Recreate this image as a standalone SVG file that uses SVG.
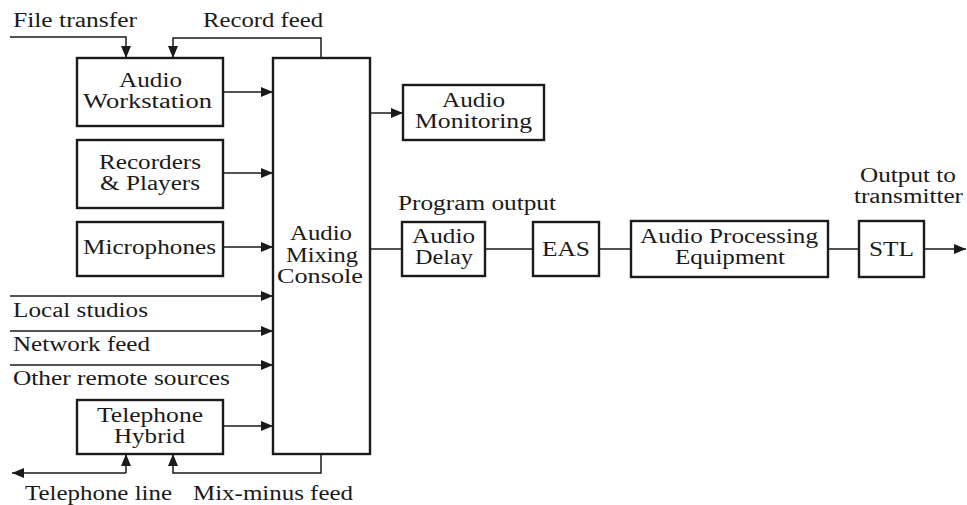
<svg xmlns="http://www.w3.org/2000/svg" width="967" height="505" viewBox="0 0 967 505" font-family="Liberation Serif, Times New Roman, serif" font-size="20">
<style>
.box{fill:#fff;stroke:#1a1a1a;stroke-width:2.4}
.ln{fill:none;stroke:#1a1a1a;stroke-width:1.5}
.t{fill:#1a1a1a}
</style>
<defs>
<marker id="ah" viewBox="0 0 12 10" refX="12" refY="5" markerWidth="12" markerHeight="10" markerUnits="userSpaceOnUse" orient="auto">
<path d="M0,0 L12,5 L0,10 z" fill="#1a1a1a"/>
</marker>
</defs>
<rect width="967" height="505" fill="#fff"/>
<g id="connectors">
<path class="ln" d="M10,37 H126 V58" marker-end="url(#ah)"/>
<path class="ln" d="M321,58 V38 H173 V58" marker-end="url(#ah)"/>
<path class="ln" d="M223,92 H273" marker-end="url(#ah)"/>
<path class="ln" d="M223,173 H273" marker-end="url(#ah)"/>
<path class="ln" d="M223,247 H273" marker-end="url(#ah)"/>
<path class="ln" d="M10,296 H273" marker-end="url(#ah)"/>
<path class="ln" d="M10,331 H273" marker-end="url(#ah)"/>
<path class="ln" d="M10,365 H273" marker-end="url(#ah)"/>
<path class="ln" d="M223,426 H273" marker-end="url(#ah)"/>
<path class="ln" d="M370,113 H403" marker-end="url(#ah)"/>
<path class="ln" d="M126,473 V454" marker-end="url(#ah)"/>
<path class="ln" d="M126,473 H12" marker-end="url(#ah)"/>
<path class="ln" d="M321,454 V473 H173 V454" marker-end="url(#ah)"/>
<path class="ln" d="M370,249 H402 M485,249 H533 M599,249 H631 M828,249 H859"/>
<path class="ln" d="M924,249 H966" marker-end="url(#ah)"/>
</g>
<g id="labels" class="t">
<text x="13" y="27" textLength="124" lengthAdjust="spacingAndGlyphs">File transfer</text>
<text x="203" y="27" textLength="120" lengthAdjust="spacingAndGlyphs">Record feed</text>
<text x="13" y="317" textLength="135" lengthAdjust="spacingAndGlyphs">Local studios</text>
<text x="13" y="351" textLength="137" lengthAdjust="spacingAndGlyphs">Network feed</text>
<text x="13" y="385" textLength="217" lengthAdjust="spacingAndGlyphs">Other remote sources</text>
<text x="25" y="500" textLength="147" lengthAdjust="spacingAndGlyphs">Telephone line</text>
<text x="193" y="500" textLength="160" lengthAdjust="spacingAndGlyphs">Mix-minus feed</text>
<text x="398" y="210" textLength="158" lengthAdjust="spacingAndGlyphs">Program output</text>
<text x="860" y="182" textLength="96" lengthAdjust="spacingAndGlyphs">Output to</text>
<text x="854" y="203" textLength="109" lengthAdjust="spacingAndGlyphs">transmitter</text>
</g>
<g id="workstation" class="t">
<rect class="box" x="77" y="58" width="146" height="68"/>
<text x="119" y="87" textLength="63" lengthAdjust="spacingAndGlyphs">Audio</text>
<text x="83" y="108" textLength="129" lengthAdjust="spacingAndGlyphs">Workstation</text>
</g>
<g id="recorders" class="t">
<rect class="box" x="77" y="140" width="146" height="68"/>
<text x="99" y="169" textLength="102" lengthAdjust="spacingAndGlyphs">Recorders</text>
<text x="100" y="190" textLength="100" lengthAdjust="spacingAndGlyphs">&amp; Players</text>
</g>
<g id="microphones" class="t">
<rect class="box" x="77" y="222" width="146" height="54"/>
<text x="83" y="254" textLength="133" lengthAdjust="spacingAndGlyphs">Microphones</text>
</g>
<g id="telephone" class="t">
<rect class="box" x="77" y="400" width="146" height="54"/>
<text x="97" y="422" textLength="106" lengthAdjust="spacingAndGlyphs">Telephone</text>
<text x="114" y="443" textLength="71" lengthAdjust="spacingAndGlyphs">Hybrid</text>
</g>
<g id="console" class="t">
<rect class="box" x="273" y="58" width="97" height="396"/>
<text x="290" y="240" textLength="62" lengthAdjust="spacingAndGlyphs">Audio</text>
<text x="286" y="262" textLength="72" lengthAdjust="spacingAndGlyphs">Mixing</text>
<text x="277" y="283" textLength="86" lengthAdjust="spacingAndGlyphs">Console</text>
</g>
<g id="monitoring" class="t">
<rect class="box" x="403" y="85" width="141" height="55"/>
<text x="442" y="107" textLength="63" lengthAdjust="spacingAndGlyphs">Audio</text>
<text x="415" y="128" textLength="117" lengthAdjust="spacingAndGlyphs">Monitoring</text>
</g>
<g id="delay" class="t">
<rect class="box" x="402" y="222" width="83" height="54"/>
<text x="412" y="243" textLength="63" lengthAdjust="spacingAndGlyphs">Audio</text>
<text x="415" y="264" textLength="58" lengthAdjust="spacingAndGlyphs">Delay</text>
</g>
<g id="eas" class="t">
<rect class="box" x="533" y="222" width="66" height="54"/>
<text x="542" y="256" textLength="48" lengthAdjust="spacingAndGlyphs">EAS</text>
</g>
<g id="processing" class="t">
<rect class="box" x="631" y="221" width="197" height="56"/>
<text x="640" y="243" textLength="178" lengthAdjust="spacingAndGlyphs">Audio Processing</text>
<text x="675" y="264" textLength="110" lengthAdjust="spacingAndGlyphs">Equipment</text>
</g>
<g id="stl" class="t">
<rect class="box" x="859" y="221" width="65" height="56"/>
<text x="869" y="256" textLength="45" lengthAdjust="spacingAndGlyphs">STL</text>
</g>
</svg>
